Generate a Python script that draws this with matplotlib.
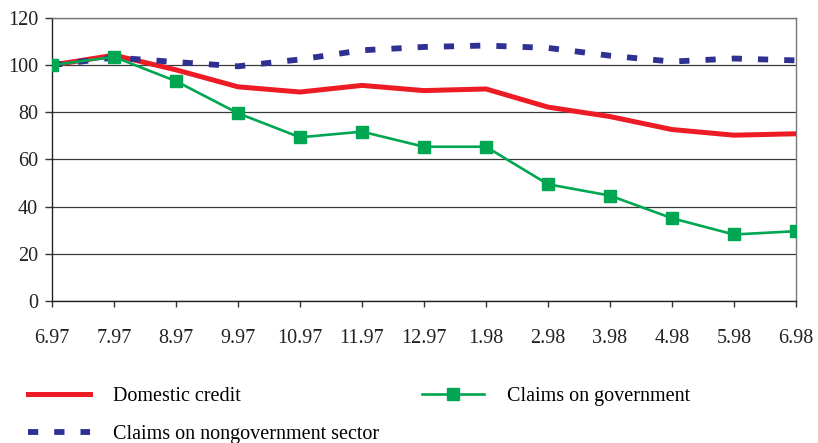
import matplotlib
matplotlib.use("Agg")
import matplotlib.pyplot as plt

plt.rcParams['font.family'] = ['Liberation Serif', 'DejaVu Serif']

months = ["6.97", "7.97", "8.97", "9.97", "10.97", "11.97", "12.97",
          "1.98", "2.98", "3.98", "4.98", "5.98", "6.98"]
domestic_credit = [100, 104.2, 98, 90.8, 88.6, 91.4, 89.2, 89.9, 82.2, 78.2, 72.7, 70.3, 70.9]
claims_government = [100, 103.5, 93.2, 79.6, 69.4, 71.8, 65.4, 65.4, 49.5, 44.7, 35.1, 28.2, 29.6]
claims_nongovernment = [100, 103.2, 101.3, 99.5, 102.4, 106.3, 107.7, 108.3, 107.3, 104.0, 101.5, 102.8, 102.0]
y_ticks = [0, 20, 40, 60, 80, 100, 120]

RED = '#ed1c24'
GREEN = '#00a651'
BLUE = '#2e3192'
FS = 14.5

fig = plt.figure(figsize=(8.18, 4.43), dpi=100)
ax = fig.add_axes([0.0636, 0.3205, 0.9094, 0.639])

x = list(range(len(months)))
l_dom, = ax.plot(x, domestic_credit, color=RED, lw=3.6, solid_joinstyle='round',
                 label='Domestic credit', zorder=3)
l_non, = ax.plot(x, claims_nongovernment, color=BLUE, lw=4.2, dashes=(1.75, 2.75),
                 dash_capstyle='butt', label='Claims on nongovernment sector', zorder=4)
l_gov, = ax.plot(x, claims_government, color=GREEN, lw=1.9, marker='s', markersize=8,
                 markeredgecolor=GREEN, label='Claims on government', zorder=5)

ax.set_xlim(0, len(months) - 1)
ax.set_ylim(0, 120)
ax.set_yticks(y_ticks)
ax.set_xticks(x)
ax.set_xticklabels(months)
ax.yaxis.grid(True, color='#3a3a3a', lw=0.9)
ax.set_axisbelow(True)

ax.tick_params(axis='x', direction='out', length=4.5, width=1, color='#333333',
               pad=16, labelsize=FS, labelcolor='#222222')
ax.tick_params(axis='y', direction='out', length=5, width=1, color='#333333',
               pad=5, labelsize=FS, labelcolor='#222222')
for side in ('left', 'bottom'):
    ax.spines[side].set_color('#222222')
    ax.spines[side].set_linewidth(1.0)
for side in ('top', 'right'):
    ax.spines[side].set_color('#777777')
    ax.spines[side].set_linewidth(1.0)

leg = fig.legend(handles=[l_dom, l_non, l_gov], ncol=2, loc='upper left',
                 bbox_to_anchor=(0.034, 0.127), frameon=False, fontsize=FS,
                 handlelength=3.1, handletextpad=1.15, columnspacing=2.1,
                 labelspacing=0.95, borderpad=0, borderaxespad=0)

fig.savefig('out.png', dpi=100)
